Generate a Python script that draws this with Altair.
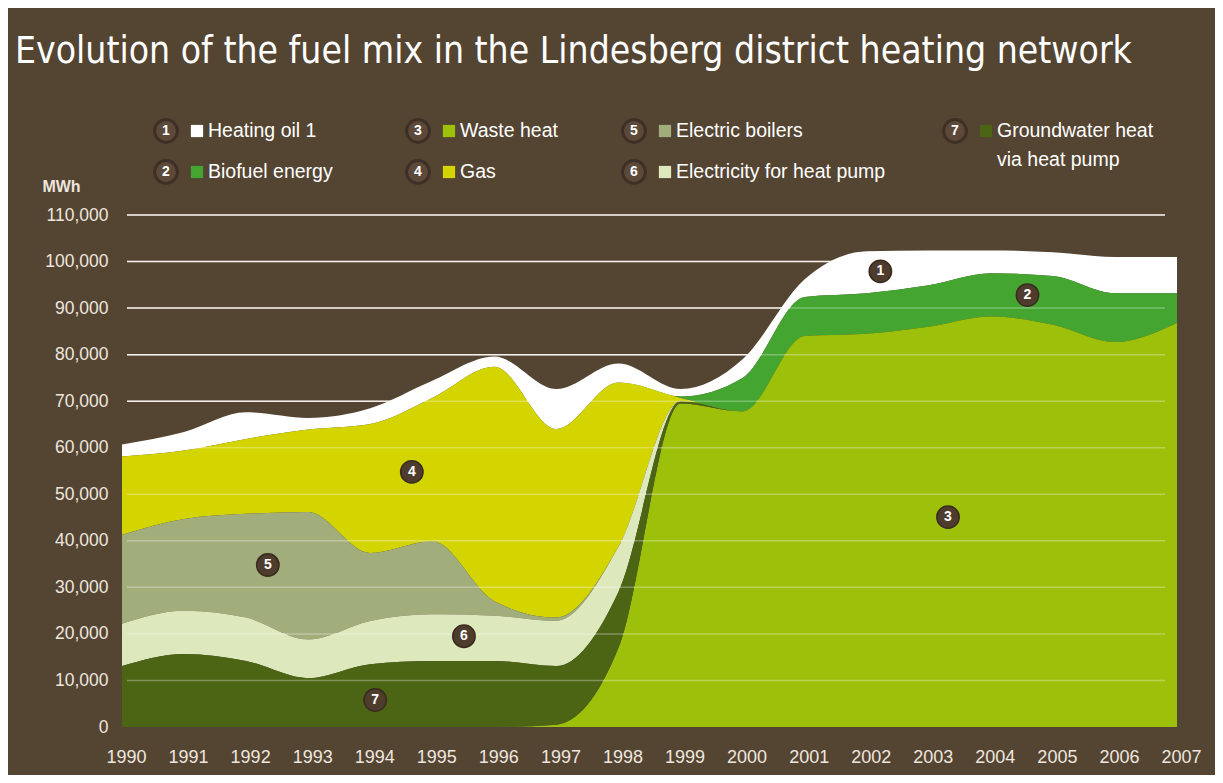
import altair as alt
import pandas as pd

# ---------------- data (MWh) ----------------
years = list(range(1990, 2008))

heating_oil = [2600, 4000, 5700, 2500, 3400, 3700, 2200, 8600, 4100, 1600,
               4000, 3800, 9000, 7500, 4900, 5100, 7800, 7800]
biofuel = [0, 0, 0, 0, 0, 0, 0, 0, 0, 300,
           7200, 8400, 8700, 8900, 9300, 10500, 10500, 6400]
waste_heat = [0, 0, 0, 0, 0, 0, 0, 500, 17000, 69500,
              67800, 84000, 84500, 86000, 88200, 86400, 82700, 86800]
gas = [16800, 14700, 16100, 17700, 27700, 30800, 50400, 40500, 35300, 700,
       0, 0, 0, 0, 0, 0, 0, 0]
electric_boilers = [19100, 19700, 22300, 27400, 14600, 15700, 3100, 700, 0, 0,
                    0, 0, 0, 0, 0, 0, 0, 0]
electricity_heat_pump = [9100, 9300, 9300, 8300, 9300, 10000, 9700, 9700, 9700, 0,
                         0, 0, 0, 0, 0, 0, 0, 0]
groundwater = [13100, 15700, 14200, 10500, 13500, 14200, 14200, 12600, 12000, 500,
               0, 0, 0, 0, 0, 0, 0, 0]

series_names = ["Heating oil 1", "Biofuel energy", "Waste heat", "Gas",
                "Electric boilers", "Electricity for heat pump",
                "Groundwater heat via heat pump"]
series_numbers = ["1", "2", "3", "4", "5", "6", "7"]
series_values = [heating_oil, biofuel, waste_heat, gas, electric_boilers,
                 electricity_heat_pump, groundwater]
legend_labels = ["Heating oil 1", "Biofuel energy", "Waste heat", "Gas",
                 "Electric boilers", "Electricity for heat pump",
                 "Groundwater heat\nvia heat pump"]
# bottom -> top stacking
stack_order = ["Waste heat", "Groundwater heat via heat pump",
               "Electricity for heat pump", "Electric boilers", "Gas",
               "Biofuel energy", "Heating oil 1"]

# in-chart number badges
badge_numbers = ["1", "2", "3", "4", "5", "6", "7"]
badge_years = [2002.22, 2004.59, 2003.31, 1994.67, 1992.35, 1995.51, 1994.08]
badge_values = [97900, 92800, 45100, 54800, 34800, 19500, 5800]

y_ticks = [0, 10000, 20000, 30000, 40000, 50000, 60000, 70000, 80000, 90000, 100000, 110000]
grid_values = y_ticks[1:]

title_text = "Evolution of the fuel mix in the Lindesberg district heating network"

# ---------------- styles ----------------
colors = ["#FFFFFF", "#44A530", "#9DC10A", "#D3D400", "#A1AD7A", "#DDE8BC", "#4C6515"]
BG = "#544432"
TXT = "#EEE6DF"
W, H = 1055, 512

# ---------------- tables ----------------
rows = []
for name, vals in zip(series_names, series_values):
    for yr, v in zip(years, vals):
        rows.append({"year": yr, "source": name, "mwh": v,
                     "rank": stack_order.index(name)})
df = pd.DataFrame(rows)

badges = pd.DataFrame({"year": badge_years, "mwh": badge_values, "num": badge_numbers})
grid = pd.DataFrame({"mwh": grid_values})

leg_col_x = [44, 296, 512, 833]
leg_row_y = [-84, -43]
leg_rows, leg_text_rows = [], []
for i, (num, lab, col) in enumerate(zip(series_numbers, legend_labels, colors)):
    cx = leg_col_x[i // 2]
    cy = leg_row_y[i % 2]
    leg_rows.append({"cx": cx, "sx": cx + 31, "cy": cy, "num": num, "color": col})
    for j, line in enumerate(lab.split("\n")):
        leg_text_rows.append({"tx": cx + 42, "ty": cy + 29 * j, "label": line})
leg = pd.DataFrame(leg_rows)
leg_txt = pd.DataFrame(leg_text_rows)

xscale = alt.Scale(domain=[1990, 2007], nice=False, zero=False)
yscale = alt.Scale(domain=[0, 110000], nice=False)

x_axis = alt.Axis(values=years, format="d", title=None, grid=False, domain=False,
                  ticks=False, labelFont="Liberation Sans", labelFontSize=18,
                  labelColor=TXT, labelPadding=21, labelOffset=4, labelFlush=False,
                  labelOverlap=False)
y_axis = alt.Axis(values=y_ticks, format=",d", title="MWh", titleAngle=0,
                  titleX=-61, titleY=-29, titleAlign="center", titleBaseline="middle",
                  titleFont="Liberation Sans", titleFontSize=16, titleFontWeight="bold",
                  titleColor=TXT, grid=False, domain=False, ticks=False,
                  labelFont="Liberation Sans", labelFontSize=17.5, labelColor=TXT,
                  labelPadding=14)

X = alt.X("year:Q", scale=xscale, axis=x_axis, title=None)
Y = alt.Y("mwh:Q", scale=yscale, axis=y_axis, title="MWh")

areas = alt.Chart(df).mark_area(interpolate="monotone").encode(
    x=X,
    y=alt.Y("mwh:Q", stack="zero", scale=yscale, axis=y_axis, title="MWh"),
    color=alt.Color("source:N", scale=alt.Scale(domain=series_names, range=colors),
                    legend=None),
    order=alt.Order("rank:Q"))

grid_under = alt.Chart(grid).mark_rule(color="#F2E9E4", strokeWidth=1.5).encode(
    y=Y, x=alt.value(5), x2=alt.value(W - 12))

grid_over = alt.Chart(grid).mark_rule(color="#FFFFFF", strokeWidth=1.5, opacity=0.3).encode(
    y=Y, x=alt.value(5), x2=alt.value(W - 12))

badge_circles = alt.Chart(badges).mark_circle(size=500, color="#4E3C2D", opacity=1,
                                              stroke="#3A2B1F", strokeWidth=1.5).encode(
    x=X, y=Y)
badge_text = alt.Chart(badges).mark_text(font="Liberation Sans", fontSize=14,
                                         fontWeight="bold", color="#FFFFFF",
                                         baseline="middle", align="center").encode(
    x=X, y=Y, text="num:N")

leg_circles = alt.Chart(leg).mark_circle(size=520, color="#5C4939", opacity=1,
                                         stroke="#3E3026", strokeWidth=3).encode(
    x=alt.X("cx:Q", scale=None, axis=None),
    y=alt.Y("cy:Q", scale=None, axis=None))
leg_nums = alt.Chart(leg).mark_text(font="Liberation Sans", fontSize=14, fontWeight="bold",
                                    color="#FFFFFF", baseline="middle", align="center").encode(
    x=alt.X("cx:Q", scale=None, axis=None),
    y=alt.Y("cy:Q", scale=None, axis=None),
    text="num:N")
leg_swatch = alt.Chart(leg).mark_square(size=150, opacity=1).encode(
    x=alt.X("sx:Q", scale=None, axis=None),
    y=alt.Y("cy:Q", scale=None, axis=None),
    color=alt.Color("color:N", scale=None, legend=None))
leg_labels = alt.Chart(leg_txt).mark_text(font="Liberation Sans", fontSize=19.5,
                                          color="#FFFFFF", baseline="middle",
                                          align="left").encode(
    x=alt.X("tx:Q", scale=None, axis=None),
    y=alt.Y("ty:Q", scale=None, axis=None),
    text="label:N")

title = alt.Chart(pd.DataFrame({"t": [title_text]})).mark_text(
    font="DejaVu Sans Condensed", fontSize=37, fontWeight=300, color="#FFFFFF",
    align="left", baseline="alphabetic").encode(
    x=alt.value(-107), y=alt.value(-152), text="t:N")

chart = alt.layer(
    grid_under, areas, grid_over, badge_circles, badge_text,
    leg_circles, leg_nums, leg_swatch, leg_labels, title
).properties(
    width=W, height=H,
    autosize=alt.AutoSizeParams(type="none"),
    padding={"left": 114, "top": 207, "right": 38, "bottom": 48},
    background=BG
).configure_view(stroke=None)

chart.save("out.html", embed_options={"renderer": "svg", "actions": False})
